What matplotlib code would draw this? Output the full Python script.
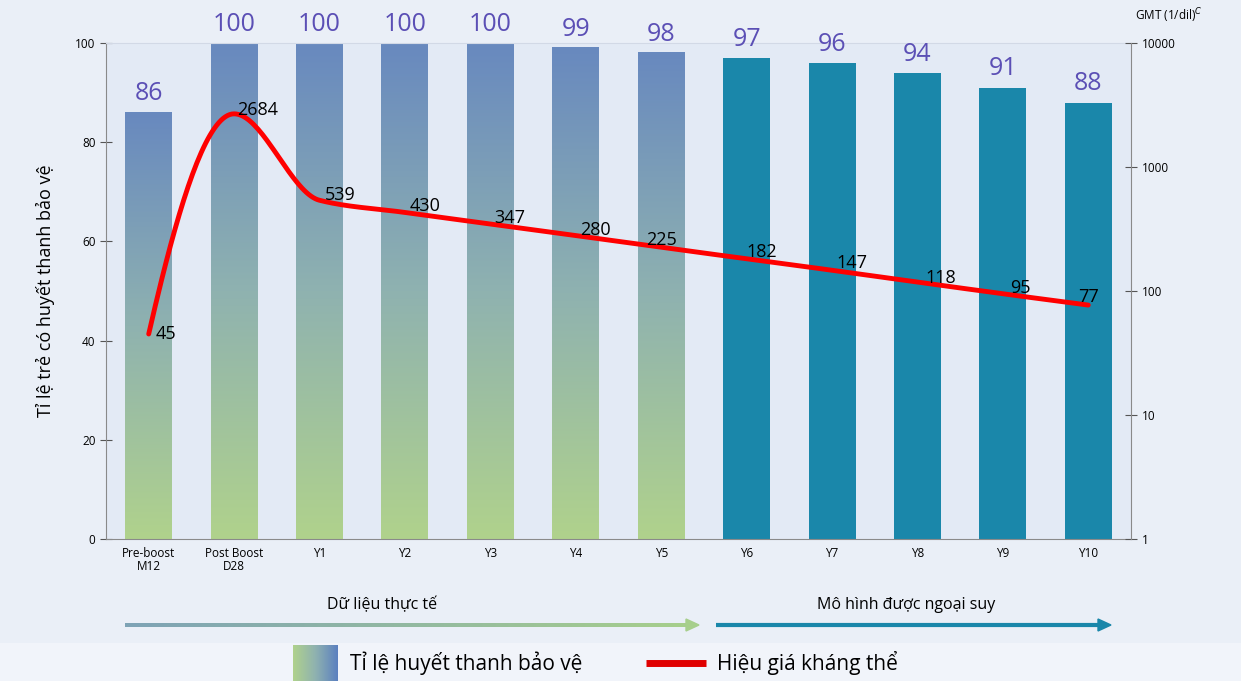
import matplotlib
matplotlib.use("Agg")
import matplotlib.pyplot as plt
import numpy as np
from matplotlib.colors import LinearSegmentedColormap
from matplotlib.patches import Rectangle, Polygon

plt.rcParams['font.family'] = ['Open Sans', 'DejaVu Sans']

categories = ['Pre-boost\nM12', 'Post Boost\nD28', 'Y1', 'Y2', 'Y3', 'Y4', 'Y5',
              'Y6', 'Y7', 'Y8', 'Y9', 'Y10']
seroprotection = [86, 100, 100, 100, 100, 99, 98, 97, 96, 94, 91, 88]
gmt = [45, 2684, 539, 430, 347, 280, 225, 182, 147, 118, 95, 77]
n_observed = 7  # first 7 points are real data, the rest is modelled

# label placement for the GMT numbers (offset in points, alignment)
gmt_offsets = [(5, 0), (2, 3), (4, 4), (3, 5), (3, 4), (3, 4), (0, 5),
               (0, 5), (3, 5), (6, 3), (5, 4), (0, 6)]
gmt_ha = ['left', 'left', 'left', 'left', 'left', 'left', 'center',
          'left', 'left', 'left', 'left', 'center']

bg = '#eaeff7'
plot_bg = '#e3eaf5'
teal = '#1a87aa'
purple = '#5b4fb5'
grad = LinearSegmentedColormap.from_list('g', ['#b0d28c', '#8fb2b0', '#6889bf'])


def pchip(x, y, n=40):
    # monotone cubic through the points (unit spacing)
    x = np.asarray(x, dtype=float)
    y = np.asarray(y, dtype=float)
    d = np.diff(y)
    m = np.zeros_like(y)
    for k in range(1, len(y) - 1):
        if d[k - 1] * d[k] > 0:
            m[k] = 2 / (1 / d[k - 1] + 1 / d[k])
    m[0] = (3 * d[0] - d[1]) / 2
    if np.sign(m[0]) != np.sign(d[0]):
        m[0] = 0
    m[-1] = (3 * d[-1] - d[-2]) / 2
    if np.sign(m[-1]) != np.sign(d[-1]):
        m[-1] = 0
    t = np.linspace(0, 1, n)
    h00 = 2 * t**3 - 3 * t**2 + 1
    h10 = t**3 - 2 * t**2 + t
    h01 = -2 * t**3 + 3 * t**2
    h11 = t**3 - t**2
    xs, ys = [], []
    for k in range(len(y) - 1):
        xs.append(x[k] + t * (x[k + 1] - x[k]))
        ys.append(h00 * y[k] + h10 * m[k] + h01 * y[k + 1] + h11 * m[k + 1])
    return np.concatenate(xs), np.concatenate(ys)


fig = plt.figure(figsize=(12.41, 6.81), dpi=100)
fig.patch.set_facecolor(bg)
fig.add_artist(Rectangle((0, 0), 1, 38 / 681, transform=fig.transFigure,
                         facecolor='#f1f4fa', edgecolor='none', zorder=0))

ax = fig.add_axes([106 / 1241, 1 - 539 / 681, 1025 / 1241, 496 / 681])
ax.set_facecolor(plot_bg)
x = np.arange(len(categories))
width = 0.55
bars = ax.bar(x, seroprotection, width=width, color='none', zorder=2)
gradient = np.linspace(0, 1, 256).reshape(-1, 1)
for i, b in enumerate(bars):
    if i < n_observed:
        ax.imshow(gradient, cmap=grad, origin='lower', aspect='auto',
                  extent=[b.get_x(), b.get_x() + width, 0, b.get_height()],
                  zorder=2)
    else:
        b.set_facecolor(teal)
    ax.annotate(str(seroprotection[i]), (x[i], seroprotection[i]),
                xytext=(0, 4.5), textcoords='offset points', ha='center',
                va='bottom', fontsize=18, color=purple, annotation_clip=False)

ax.set_xlim(-0.5, len(categories) - 0.5)
ax.set_ylim(0, 100)
ax.set_yticks(np.arange(0, 101, 20))
ax.set_xticks(x)
ax.set_xticklabels(categories, fontsize=8.5, linespacing=1.0)
ax.set_xticks(np.arange(0.5, len(categories) - 1, 1), minor=True)
ax.tick_params(axis='x', which='major', length=0, pad=6)
ax.tick_params(axis='x', which='minor', direction='inout', length=8, color='#555555')
ax.tick_params(axis='y', direction='inout', length=8, color='#555555', labelsize=8.5)
for s in ['left', 'bottom']:
    ax.spines[s].set_color('#8a8a8a')
ax.spines['top'].set_color('#d2d9e6')
ax.spines['right'].set_visible(False)

ax2 = ax.twinx()
ax2.set_yscale('log')
ax2.set_ylim(1, 10000)
ax2.set_yticks([1, 10, 100, 1000, 10000])
ax2.set_yticklabels(['1', '10', '100', '1000', '10000'])
ax2.minorticks_off()
ax2.tick_params(axis='y', direction='inout', length=8, color='#555555', labelsize=8.5)
ax2.spines['right'].set_color('#8a8a8a')
for s in ['left', 'top', 'bottom']:
    ax2.spines[s].set_visible(False)

sx, sy = pchip(x, np.log10(gmt))
ax2.plot(sx, 10 ** sy, color='#ff0000', lw=3.5, solid_capstyle='round', zorder=5)
for i, v in enumerate(gmt):
    ax2.annotate(str(v), (x[i], v), xytext=gmt_offsets[i], textcoords='offset points',
                 ha=gmt_ha[i], va='center', fontsize=13, color='black', zorder=6)

fig.text(45 / 1241, 1 - 291 / 681, 'Tỉ lệ trẻ có huyết thanh bảo vệ', rotation=90,
         ha='center', va='center', fontsize=13)
fig.text(1135 / 1241, 1 - 16 / 681, 'GMT (1/dil)$^{C}$', ha='left', va='center',
         fontsize=8.5)

# overlay in pixel coordinates for the period arrows and the legend
ov = fig.add_axes([0, 0, 1, 1], zorder=10)
ov.set_xlim(0, 1241)
ov.set_ylim(681, 0)
ov.axis('off')
ov.patch.set_alpha(0)

arrow_grad = LinearSegmentedColormap.from_list('a', ['#7ea3b6', '#a7cf8c'])
ov.imshow(np.linspace(0, 1, 256).reshape(1, -1), cmap=arrow_grad, aspect='auto',
          extent=[125, 688, 627, 623])
ov.add_patch(Polygon([[686, 619], [699, 625], [686, 631]], color='#a7cf8c'))
ov.plot([716, 1100], [625, 625], color=teal, lw=3, solid_capstyle='butt')
ov.add_patch(Polygon([[1098, 619], [1111, 625], [1098, 631]], color=teal))
ov.text(382, 605, 'Dữ liệu thực tế', ha='center', va='center', fontsize=11.5)
ov.text(906, 605, 'Mô hình được ngoại suy', ha='center', va='center', fontsize=11.5)

legend_grad = LinearSegmentedColormap.from_list('l', ['#b0d28c', '#8fb2b0', '#5b80c0'])
ov.imshow(np.linspace(0, 1, 256).reshape(1, -1), cmap=legend_grad, aspect='auto',
          extent=[293, 338, 681, 645])
ov.text(350, 663, 'Tỉ lệ huyết thanh bảo vệ', ha='left', va='center', fontsize=15)
ov.plot([646, 706], [663, 663], color='#e00000', lw=5, solid_capstyle='butt')
ov.text(717, 663, 'Hiệu giá kháng thể', ha='left', va='center', fontsize=15)
ov.set_xlim(0, 1241)
ov.set_ylim(681, 0)

fig.savefig('out.png', dpi=100, facecolor=fig.get_facecolor())
